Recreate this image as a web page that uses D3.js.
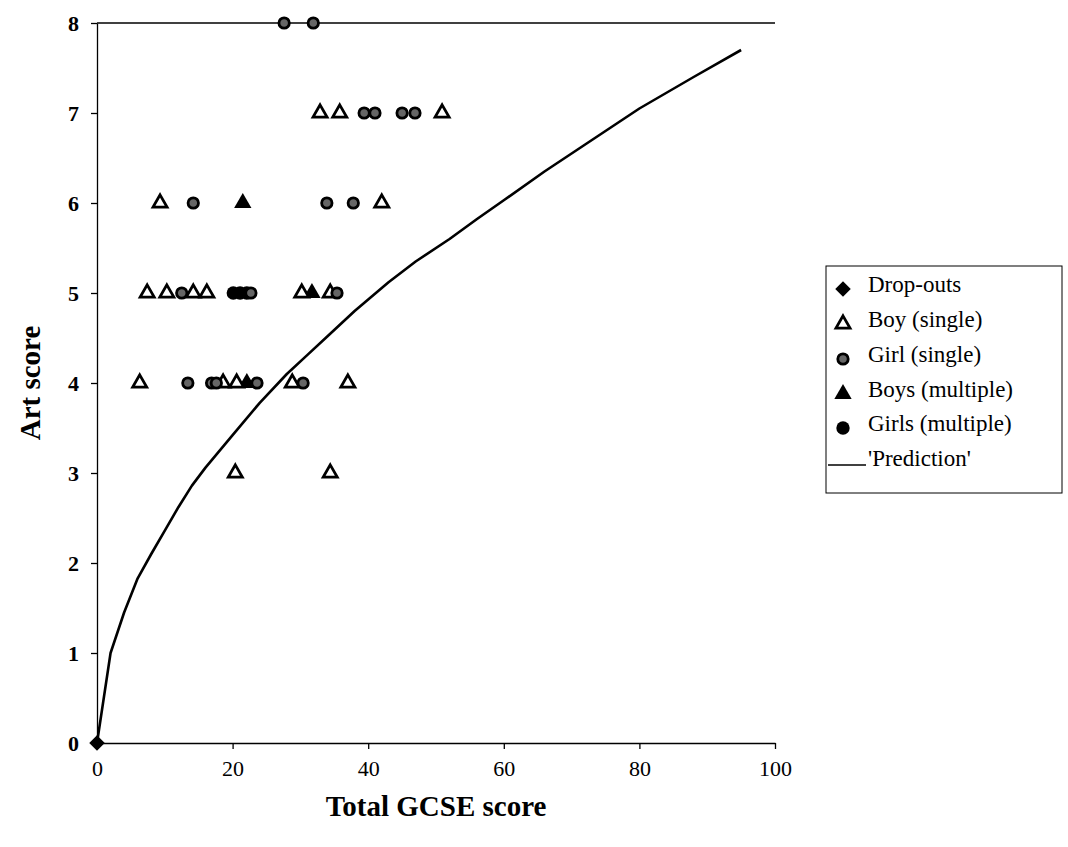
<!DOCTYPE html>
<html><head><meta charset="utf-8">
<script src="https://cdn.jsdelivr.net/npm/d3@7"></script>
<style>body{margin:0;background:#fff;} svg{display:block;}</style>
</head><body>
<svg id="c" width="1068" height="847"></svg>
<script>
// ---- data ----
const dropouts = [{x:0, y:0}];
const boySingle = [
  {x:32.9,y:7},{x:35.8,y:7},{x:50.9,y:7},
  {x:9.3,y:6},{x:42.0,y:6},
  {x:7.4,y:5},{x:10.3,y:5},{x:14.2,y:5},{x:16.2,y:5},{x:30.2,y:5},{x:34.4,y:5},
  {x:6.3,y:4},{x:18.6,y:4},{x:20.6,y:4},{x:28.8,y:4},{x:37.0,y:4},
  {x:20.4,y:3},{x:34.4,y:3}
];
const girlSingle = [
  {x:27.6,y:8},{x:31.9,y:8},
  {x:39.4,y:7},{x:41.0,y:7},{x:45.0,y:7},{x:46.9,y:7},
  {x:14.2,y:6},{x:33.9,y:6},{x:37.8,y:6},
  {x:12.5,y:5},{x:22.7,y:5},{x:35.4,y:5},
  {x:13.4,y:4},{x:16.9,y:4},{x:17.6,y:4},{x:23.6,y:4},{x:30.4,y:4}
];
const boysMultiple = [
  {x:21.5,y:6},{x:31.7,y:5},{x:22.1,y:4}
];
const girlsMultiple = [
  {x:20.1,y:5},{x:21.1,y:5},{x:22.1,y:5}
];
const predX = [0, 2, 4, 6, 8, 10, 12, 14, 16, 20, 24, 28, 31, 34, 38, 43, 47, 52, 56, 60, 66, 72, 80, 88, 95];
const predY = [0, 1.0, 1.45, 1.83, 2.1, 2.36, 2.62, 2.86, 3.06, 3.42, 3.78, 4.1, 4.31, 4.52, 4.8, 5.12, 5.35, 5.6, 5.82, 6.03, 6.35, 6.65, 7.05, 7.4, 7.7];
const xTicks = [0, 20, 40, 60, 80, 100];
const yTicks = [0, 1, 2, 3, 4, 5, 6, 7, 8];
const legendLabels = ["Drop-outs", "Boy (single)", "Girl (single)", "Boys (multiple)", "Girls (multiple)", "'Prediction'"];

// ---- drawing ----
const svg = d3.select("#c");
const x = d3.scaleLinear().domain([0,100]).range([97,775]);
const y = d3.scaleLinear().domain([0,8]).range([743,23]);
const FONT = "'Liberation Serif','Times New Roman',serif";

// top frame line
svg.append("line").attr("x1",x(0)).attr("x2",x(100)).attr("y1",y(8)).attr("y2",y(8))
  .attr("stroke","#000").attr("stroke-width",1.3);

const xAxis = svg.append("g").attr("transform",`translate(0,${y(0)})`)
  .call(d3.axisBottom(x).tickValues(xTicks).tickSize(6).tickSizeOuter(0).tickPadding(11));
const yAxis = svg.append("g").attr("transform",`translate(${x(0)},0)`)
  .call(d3.axisLeft(y).tickValues(yTicks).tickSize(6).tickSizeOuter(0).tickPadding(12));
[xAxis,yAxis].forEach(g=>{
  g.selectAll("path,line").attr("stroke","#000").attr("stroke-width",1.3);
  g.selectAll("text").attr("font-family",FONT).attr("font-size",22).attr("fill","#000");
});
yAxis.selectAll("text").attr("font-weight","bold");

// axis titles
svg.append("text").attr("x",436).attr("y",816).attr("text-anchor","middle")
  .attr("font-family",FONT).attr("font-weight","bold").attr("font-size",29).text("Total GCSE score");
svg.append("text").attr("transform","translate(40,383) rotate(-90)").attr("text-anchor","middle")
  .attr("font-family",FONT).attr("font-weight","bold").attr("font-size",29).text("Art score");

// prediction line
const pred = predX.map((v,i)=>({x:v,y:predY[i]}));
svg.append("path").datum(pred)
  .attr("d", d3.line().x(d=>x(d.x)).y(d=>y(d.y)))
  .attr("fill","none").attr("stroke","#000").attr("stroke-width",2.6).attr("stroke-linejoin","round");

const tri = d3.symbol().type(d3.symbolTriangle);
const styles = {
  drop: g=>g.attr("d",d3.symbol().type(d3.symbolSquare).size(120)()).attr("fill","#000")
            .attr("transform", function(){ return (d3.select(this).attr("transform")||"") + " rotate(45)"; }),
  boyS: g=>g.attr("d",tri.size(85)()).attr("fill","#fff").attr("stroke","#000").attr("stroke-width",2.8),
  girlS: g=>g.attr("d",d3.symbol().type(d3.symbolCircle).size(85)()).attr("fill","#666").attr("stroke","#000").attr("stroke-width",2.8),
  boysM: g=>g.attr("d",tri.size(130)()).attr("fill","#000"),
  girlsM: g=>g.attr("d",d3.symbol().type(d3.symbolCircle).size(140)()).attr("fill","#000")
};
function plot(data, key){
  svg.append("g").selectAll("path").data(data).join("path")
    .attr("transform",d=>`translate(${x(d.x)},${y(d.y)})`).call(styles[key]);
}
plot(girlsMultiple,"girlsM");
plot(boysMultiple,"boysM");
plot(boySingle,"boyS");
plot(girlSingle,"girlS");
plot(dropouts,"drop");

// legend
const lg = svg.append("g");
lg.append("rect").attr("x",826).attr("y",266).attr("width",236).attr("height",227)
  .attr("fill","#fff").attr("stroke","#000").attr("stroke-width",1);
const keys = ["drop","boyS","girlS","boysM","girlsM"];
const rowY = [285, 320, 355, 390, 424, 459];
legendLabels.forEach((lab,i)=>{
  if(i<5){
    lg.append("path").attr("transform",`translate(843,${rowY[i]+4})`).call(styles[keys[i]]);
  } else {
    lg.append("line").attr("x1",828).attr("x2",866).attr("y1",rowY[i]+6).attr("y2",rowY[i]+6)
      .attr("stroke","#000").attr("stroke-width",1.5);
  }
  lg.append("text").attr("x",868).attr("y",rowY[i]+7).attr("font-family",FONT)
    .attr("font-size",23).text(lab);
});
</script>
</body></html>
